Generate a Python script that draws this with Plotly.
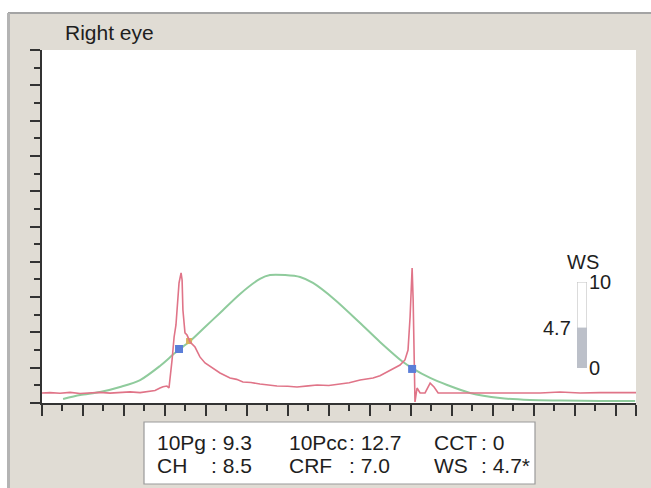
import plotly.graph_objects as go

# ---- data ----
red_x = [0, 0.39, 0.88, 1.37, 1.86, 2.34, 2.83, 3.32, 3.81, 4.30, 4.79, 5.27, 5.52, 5.76, 5.91, 6.10, 6.20,
         6.35, 6.45, 6.54, 6.59, 6.69, 6.79, 6.84, 6.88, 6.98, 7.08, 7.23, 7.47, 7.71, 7.96, 8.30, 8.69,
         9.18, 9.50, 9.81, 10.2, 10.64, 11.0, 11.47, 12.0, 12.45, 13.0, 13.43, 14.0, 14.55, 15.0, 15.53, 16.16,
         16.5, 16.85, 17.14, 17.48, 17.72, 17.87, 17.97, 18.07, 18.12, 18.16, 18.21, 18.31, 18.46, 18.70,
         18.95, 19.14, 19.34, 19.78, 20.41, 21.39, 22.36, 23.34, 24.32, 25.29, 26.27, 27.25, 28.22, 29.0]
red_y = [0.57, 0.59, 0.55, 0.60, 0.54, 0.57, 0.60, 0.56, 0.58, 0.63, 0.59, 0.68, 0.71, 0.85, 0.92, 0.96, 0.85,
         2.44, 3.74, 4.42, 5.27, 6.80, 7.37, 6.97, 5.27, 3.97, 3.85, 3.46, 3.17, 2.61, 2.27, 1.98, 1.70,
         1.42, 1.34, 1.19, 1.16, 1.08, 1.03, 0.96, 0.95, 0.91, 0.97, 1.02, 0.99, 1.08, 1.15, 1.30, 1.42,
         1.55, 1.76, 1.98, 2.15, 2.44, 3.00, 4.87, 7.65, 5.84, 3.00, 0.06, 0.85, 0.57, 0.57,
         1.13, 0.91, 0.57, 0.57, 0.57, 0.59, 0.57, 0.59, 0.57, 0.62, 0.57, 0.59, 0.57, 0.59]

green_x = [1.03, 1.86, 2.83, 3.81, 4.79, 5.76, 6.49, 7.23, 7.96, 8.69, 9.67, 10.64, 11.13, 11.87, 12.60,
           13.23, 14.31, 15.53, 16.50, 17.63, 18.07, 18.95, 19.78, 20.90, 22.36, 23.83, 25.29, 27.25, 28.96]
green_y = [0.23, 0.45, 0.62, 0.91, 1.30, 2.10, 2.83, 3.51, 4.31, 5.10, 6.18, 7.03, 7.25, 7.25, 7.14,
           6.80, 5.84, 4.53, 3.46, 2.32, 1.98, 1.42, 1.02, 0.57, 0.28, 0.17, 0.14, 0.11, 0.11]

blue_x = [6.69, 18.07]
blue_y = [3.06, 1.93]
orange_x = [7.18]
orange_y = [3.51]

ws_value = 4.7
ws_max = 10

labels_row1 = ["10Pg", "10Pcc", "CCT"]
values_row1 = [": 9.3", ": 12.7", ": 0"]
labels_row2 = ["CH", "CRF", "WS"]
values_row2 = [": 8.5", ": 7.0", ": 4.7*"]

# ---- figure ----
W, H = 651, 488
L, R, T, B = 42, 15, 50, 85
FONT = "Liberation Sans, Arial, sans-serif"
BEIGE = "#e0dcd4"
TXT = "#1e1e1e"

fig = go.Figure()
fig.add_trace(go.Scatter(x=green_x, y=green_y, mode="lines",
                         line=dict(color="#8fcb9c", width=2, shape="spline", smoothing=0.8),
                         hoverinfo="skip"))
fig.add_trace(go.Scatter(x=orange_x, y=orange_y, mode="markers",
                         marker=dict(symbol="square", size=6, color="#d8b25c"), hoverinfo="skip"))
fig.add_trace(go.Scatter(x=red_x, y=red_y, mode="lines",
                         line=dict(color="#e07488", width=1.6), hoverinfo="skip"))
fig.add_trace(go.Scatter(x=blue_x, y=blue_y, mode="markers",
                         marker=dict(symbol="square", size=8, color="#5b7ed8"), hoverinfo="skip"))

# WS gauge
fig.add_trace(go.Bar(x=[0], y=[ws_max], width=1, xaxis="x2", yaxis="y2",
                     marker=dict(color="white", line=dict(color="#c4c4c4", width=1.2)), hoverinfo="skip"))
fig.add_trace(go.Bar(x=[0], y=[ws_value], width=1, xaxis="x2", yaxis="y2",
                     marker=dict(color="#bcc0c9", line=dict(color="#bcc0c9", width=0)), hoverinfo="skip"))

plot_w = W - L - R
plot_h = H - T - B
def dx(px):
    return (px - L) / plot_w
def dy(py):
    return (H - B - py) / plot_h

axis_common = dict(showgrid=False, zeroline=False, showticklabels=False, showline=True,
                   linecolor="#333333", linewidth=1.5, ticks="outside", tickcolor="#333333",
                   tickwidth=1.5)

fig.update_layout(
    width=W, height=H,
    margin=dict(l=L, r=R, t=T, b=B, pad=0),
    paper_bgcolor=BEIGE, plot_bgcolor="white",
    showlegend=False, barmode="overlay",
    xaxis=dict(range=[0, 29], tickvals=list(range(0, 29, 2)) + [29], ticklen=11,
               minor=dict(tickvals=list(range(1, 29, 2)), ticklen=6, ticks="outside",
                          tickcolor="#333333", tickwidth=1.5),
               **axis_common),
    yaxis=dict(range=[0, 20], tickvals=list(range(0, 21, 2)), ticklen=10,
               minor=dict(tickvals=list(range(1, 20, 2)), ticklen=6, ticks="outside",
                          tickcolor="#333333", tickwidth=1.5),
               **axis_common),
    xaxis2=dict(domain=[dx(577), dx(587)], range=[-0.5, 0.5], anchor="y2", visible=False),
    yaxis2=dict(domain=[dy(368), dy(282)], range=[0, ws_max], anchor="x2", visible=False),
    font=dict(family=FONT, color=TXT),
)

shapes = [
    # white page outside the frame (left strip and top strip)
    dict(type="rect", xref="paper", yref="paper", x0=dx(-2), x1=dx(8), y0=dy(490), y1=dy(-2),
         layer="below", fillcolor="white", line=dict(width=0)),
    dict(type="rect", xref="paper", yref="paper", x0=dx(-2), x1=dx(653), y0=dy(13), y1=dy(-2),
         layer="below", fillcolor="white", line=dict(width=0)),
    dict(type="line", xref="paper", yref="paper", x0=dx(8), x1=dx(651), y0=dy(13), y1=dy(13),
         layer="below", line=dict(color="#a4a4a4", width=2)),
    dict(type="line", xref="paper", yref="paper", x0=dx(8.5), x1=dx(8.5), y0=dy(488), y1=dy(13),
         layer="below", line=dict(color="#b4b4b4", width=3)),
    dict(type="rect", xref="paper", yref="paper", x0=dx(144), x1=dx(535), y0=dy(484), y1=dy(422),
         layer="above", fillcolor="white", line=dict(color="#9a9a9a", width=1.2)),
]
fig.update_layout(shapes=shapes)

ann = []
ann.append(dict(text="Right eye", xref="paper", yref="paper", x=dx(63), y=dy(33),
                xanchor="left", yanchor="middle", showarrow=False, font=dict(size=21, color=TXT)))
label_x = [155, 287, 432]
value_x = [209, 347, 479]
for i in range(3):
    ann.append(dict(text=labels_row1[i], xref="paper", yref="paper", x=dx(label_x[i]), y=dy(442),
                    xanchor="left", yanchor="middle", showarrow=False, font=dict(size=21, color=TXT)))
    ann.append(dict(text=values_row1[i], xref="paper", yref="paper", x=dx(value_x[i]), y=dy(442),
                    xanchor="left", yanchor="middle", showarrow=False, font=dict(size=21, color=TXT)))
    ann.append(dict(text=labels_row2[i], xref="paper", yref="paper", x=dx(label_x[i]), y=dy(465),
                    xanchor="left", yanchor="middle", showarrow=False, font=dict(size=21, color=TXT)))
    ann.append(dict(text=values_row2[i], xref="paper", yref="paper", x=dx(value_x[i]), y=dy(465),
                    xanchor="left", yanchor="middle", showarrow=False, font=dict(size=21, color=TXT)))

# gauge labels
ann.append(dict(text="WS", xref="x2 domain", yref="y2", x=0.6, y=ws_max, yshift=20,
                xanchor="center", yanchor="middle", showarrow=False, font=dict(size=20, color=TXT)))
ann.append(dict(text=str(ws_max), xref="x2 domain", yref="y2", x=1, y=ws_max,
                xanchor="left", yanchor="middle", showarrow=False, font=dict(size=20, color=TXT)))
ann.append(dict(text="0", xref="x2 domain", yref="y2", x=1, y=0,
                xanchor="left", yanchor="middle", showarrow=False, font=dict(size=20, color=TXT)))
ann.append(dict(text=str(ws_value), xref="x2 domain", yref="y2", x=0, y=ws_value, xshift=-4,
                xanchor="right", yanchor="middle", showarrow=False, font=dict(size=20, color=TXT)))
fig.update_layout(annotations=ann)

fig.write_html("out.html")
